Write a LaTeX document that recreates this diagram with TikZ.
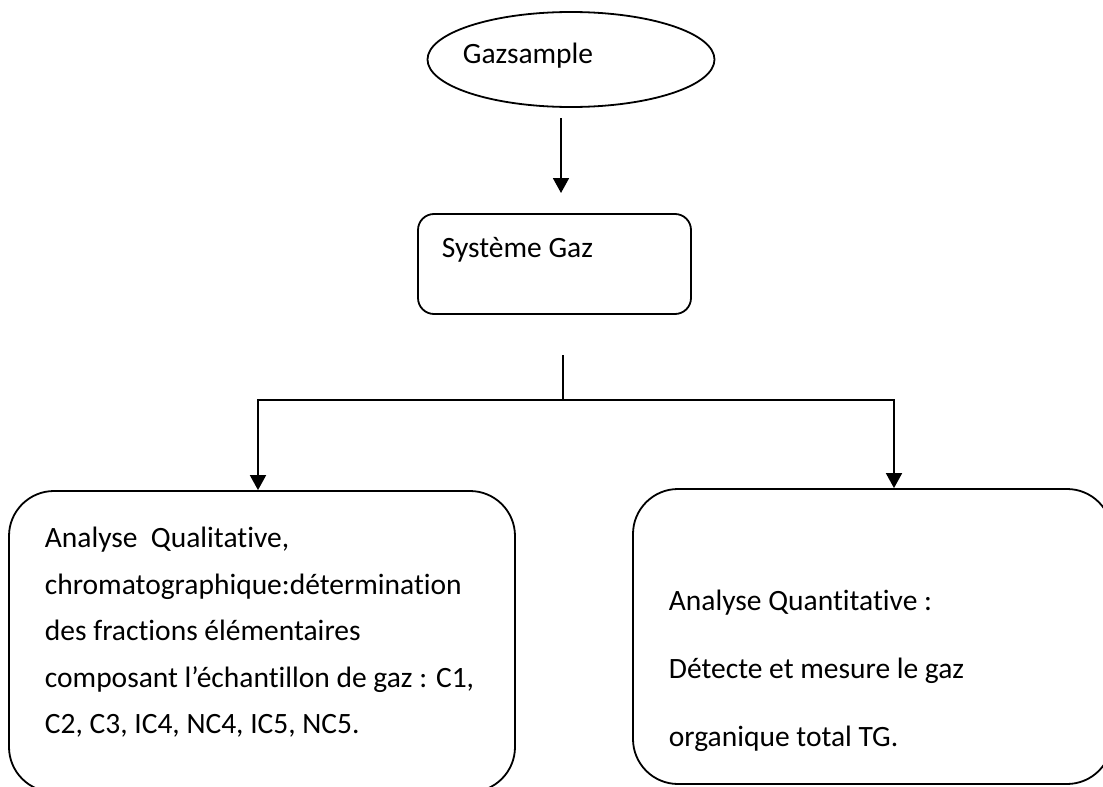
\documentclass[tikz,border=0pt]{standalone}
\usepackage{fontspec}
\setmainfont[Ligatures=NoCommon]{Carlito}
\usetikzlibrary{shapes.geometric,arrows.meta}
\begin{document}
\begin{tikzpicture}[x=1pt,y=-1pt,
  line width=1.8pt,
  rbox/.style={draw,rounded corners=#1,line width=1.8pt,inner sep=0pt},
  txt/.style={anchor=base west,inner sep=0pt,font=\fontsize{29.5}{47}\selectfont},
  arr/.style={-{Triangle[width=16pt,length=15pt]},line width=1.8pt}]
\useasboundingbox (0,0) rectangle (1103,787);
\clip (0,0) rectangle (1103,787);
% shapes
\node[draw,ellipse,line width=1.8pt,inner sep=0pt,minimum width=287pt,minimum height=95pt] (gs) at (571,59.5) {};
\node[rbox=16pt,minimum width=273pt,minimum height=100pt] (sg) at (554.5,264) {};
\node[rbox=45pt,minimum width=506pt,minimum height=301pt] (lb) at (262,641.5) {};
\node[rbox=45pt,minimum width=479pt,minimum height=295pt] (rb) at (872.5,636.5) {};
% texts
\node[txt] (t0) at (462,63) {Gazsample};
\node[txt] (t1) at (441,257) {Système Gaz};
\node[txt] (l1) at (44,547) {Analyse~~Qualitative,};
\node[txt] (l2) at (44,594) {chromatographique:détermination};
\node[txt] (l3) at (44,640) {des fractions élémentaires};
\node[txt] (l4) at (44,687) {composant l’échantillon de gaz : C1,};
\node[txt] (l5) at (44,733) {C2, C3, IC4, NC4, IC5, NC5.};
\node[txt] (r1) at (668,610) {Analyse Quantitative :};
\node[txt] (r2) at (668,678) {Détecte et mesure le gaz};
\node[txt] (r3) at (668,746) {organique total TG.};
% connectors
\coordinate (a1s) at (561,118);
\coordinate (a1e) at (561,193);
\draw[arr] (a1s) -- (a1e);
\coordinate (tr) at (563,355);
\coordinate (j) at (563,400);
\draw (tr) -- (j);
\draw[arr] (j) -| ([xshift=-4pt]lb.north);
\draw[arr] (j) -| ([xshift=21.5pt]rb.north);
\end{tikzpicture}
\end{document}
